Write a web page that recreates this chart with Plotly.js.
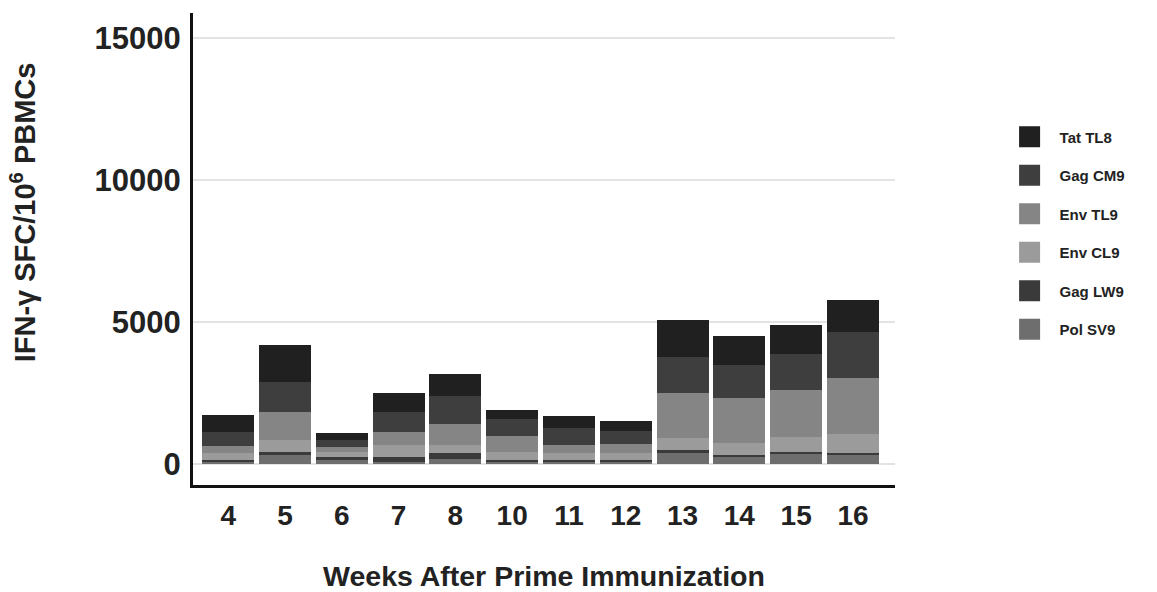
<!DOCTYPE html>
<html>
<head>
<meta charset="utf-8">
<script src="https://cdn.plot.ly/plotly-3.0.1.min.js"></script>
<style>html,body{margin:0;padding:0;background:#fff}#chart{width:1157px;height:592px}</style>
</head>
<body>
<div id="chart"></div>
<script>
const weeks = ['4','5','6','7','8','10','11','12','13','14','15','16'];
const polSV9 = [80, 320, 140, 80, 165, 80, 80, 80, 400, 250, 350, 300];
const gagLW9 = [60, 110, 115, 155, 210, 60, 50, 50, 110, 70, 80, 75];
const envCL9 = [250, 410, 175, 430, 290, 290, 245, 245, 390, 410, 530, 680];
const envTL9 = [255, 1000, 175, 445, 760, 540, 290, 317, 1615, 1600, 1640, 1980];
const gagCM9 = [470, 1050, 235, 725, 960, 610, 585, 478, 1250, 1150, 1290, 1615];
const tatTL8 = [605, 1315, 235, 668, 795, 330, 445, 350, 1290, 1030, 1020, 1135];

const seriesNames = ['Pol SV9','Gag LW9','Env CL9','Env TL9','Gag CM9','Tat TL8'];
const seriesValues = [polSV9, gagLW9, envCL9, envTL9, gagCM9, tatTL8];
const seriesColors = ['#6e6e6e','#3a3a3a','#9b9b9b','#858585','#3e3e3e','#202020'];
const yTitle = 'IFN-\u03b3 SFC/10<sup>6</sup> PBMCs';
const xTitle = 'Weeks After Prime Immunization';

const FONT = 'Liberation Sans, Arial, Helvetica, sans-serif';

const barTraces = seriesNames.map((n, i) => ({
  type: 'bar',
  name: n,
  x: weeks,
  y: seriesValues[i],
  marker: {color: seriesColors[i], line: {width: 0}},
  showlegend: false,
  hoverinfo: 'x+y+name'
}));

// legend-only entries (larger square swatches), top of stack listed first
const legendTraces = seriesNames.slice().reverse().map((n) => {
  const i = seriesNames.indexOf(n);
  return {
    type: 'scatter', mode: 'markers',
    name: n, x: [null], y: [null],
    legendgroup: n,
    marker: {symbol: 'square', size: 16, color: seriesColors[i],
             line: {color: seriesColors[i], width: 5}},
    hoverinfo: 'skip'
  };
});

const layout = {
  width: 1157, height: 592,
  margin: {l: 193, r: 262, t: 13, b: 107},
  paper_bgcolor: '#fff', plot_bgcolor: '#fff',
  barmode: 'stack',
  bargap: 0.085,
  font: {family: FONT, color: '#222'},
  showlegend: true,
  legend: {
    x: 1.149, xanchor: 'left', y: 0.772, yanchor: 'top',
    traceorder: 'grouped',
    tracegroupgap: 16,
    itemwidth: 50,
    font: {family: FONT, size: 15, weight: 'bold', color: '#222'},
    bgcolor: 'rgba(0,0,0,0)'
  },
  xaxis: {
    type: 'category',
    range: [-0.62, 11.74],
    showline: true, linecolor: '#111', linewidth: 3,
    showgrid: false, zeroline: false,
    ticks: 'outside', ticklen: 3, tickcolor: 'rgba(0,0,0,0)',
    tickfont: {family: FONT, size: 28, weight: 'bold', color: '#222'},
    title: {text: xTitle, standoff: 39,
            font: {family: FONT, size: 28.5, weight: 'bold', color: '#222'}}
  },
  yaxis: {
    range: [-740, 15880],
    tickvals: [0, 5000, 10000, 15000],
    ticktext: ['0', '5000', '10000', '15000'],
    showline: true, linecolor: '#111', linewidth: 3,
    showgrid: true, gridcolor: '#e3e3e3', gridwidth: 1.5,
    zeroline: false,
    ticks: 'outside', ticklen: 3, tickcolor: 'rgba(0,0,0,0)',
    tickfont: {family: FONT, size: 31, weight: 'bold', color: '#222'}
  },
  annotations: [{
    text: yTitle, textangle: -90,
    xref: 'paper', yref: 'paper', x: -0.242, y: 0.578,
    xanchor: 'center', yanchor: 'middle', showarrow: false,
    font: {family: FONT, size: 29, weight: 'bold', color: '#222'}
  }]
};

Plotly.newPlot('chart', barTraces.concat(legendTraces), layout, {displayModeBar: false, staticPlot: true});
</script>
</body>
</html>
